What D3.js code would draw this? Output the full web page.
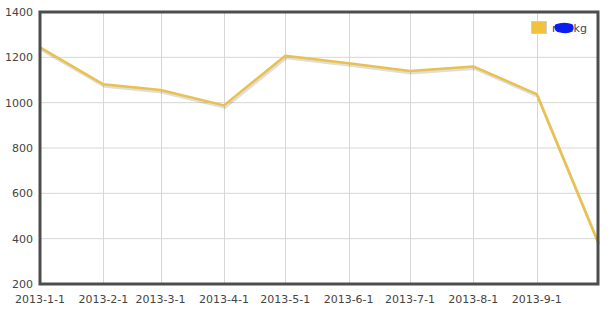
<!DOCTYPE html>
<html><head><meta charset="utf-8">
<script src="https://cdn.jsdelivr.net/npm/d3@7/dist/d3.min.js"></script>
<style>body{margin:0;background:#fff}svg{display:block}text{font-family:"DejaVu Sans",Verdana,sans-serif;font-size:11px;fill:#444}</style>
</head><body>
<svg id="c" width="614" height="315"></svg>
<script>
const dates = ["2013-1-1","2013-2-1","2013-3-1","2013-4-1","2013-5-1","2013-6-1","2013-7-1","2013-8-1","2013-9-1","2013-10-1"];
const values = [1244,1081,1056,988,1207,1174,1140,1160,1038,384];
const yTicks = [200,400,600,800,1000,1200,1400];
const xTickLabels = ["2013-1-1","2013-2-1","2013-3-1","2013-4-1","2013-5-1","2013-6-1","2013-7-1","2013-8-1","2013-9-1"];
const seriesName = "net.kg";

const parse = d3.timeParse("%Y-%-m-%-d");
const data = dates.map((d,i)=>({date:parse(d), value:values[i]}));
const m = {l:40, r:16, t:12, b:31};
const W = 614, H = 315;
const svg = d3.select("#c");
const x = d3.scaleTime().domain([parse("2013-1-1"), parse("2013-10-1")]).range([m.l, W-m.r]);
const y = d3.scaleLinear().domain([200,1400]).range([H-m.b, m.t]);

const g = svg.append("g");
// grid
g.selectAll("line.h").data(yTicks.slice(1,-1)).join("line")
  .attr("x1", m.l).attr("x2", W-m.r).attr("y1", d=>y(d)).attr("y2", d=>y(d))
  .attr("stroke","#d6d6d6").attr("stroke-width",1);
g.selectAll("line.v").data(xTickLabels.slice(1).map(parse)).join("line")
  .attr("x1", d=>Math.round(x(d))+0.5).attr("x2", d=>Math.round(x(d))+0.5).attr("y1", m.t).attr("y2", H-m.b)
  .attr("stroke","#d6d6d6").attr("stroke-width",1);

// line shadow
const line = d3.line().x(d=>x(d.date)).y(d=>y(d.value));
g.append("path").datum(data).attr("d", line).attr("transform","translate(1,2)")
  .attr("fill","none").attr("stroke","rgba(0,0,0,0.13)").attr("stroke-width",3).attr("stroke-linejoin","round");
g.append("path").datum(data).attr("d", line)
  .attr("fill","none").attr("stroke","#eac14a").attr("stroke-width",2.5).attr("stroke-linejoin","round");

// frame
g.append("rect").attr("x", m.l).attr("y", m.t).attr("width", W-m.r-m.l).attr("height", H-m.b-m.t)
  .attr("fill","none").attr("stroke","#4d4d4d").attr("stroke-width",3);

// y labels
g.selectAll("text.y").data(yTicks).join("text")
  .attr("x", 33).attr("y", d=>y(d)).attr("dy","0.35em").attr("text-anchor","end").text(d=>d);
// x labels
g.selectAll("text.x").data(xTickLabels).join("text")
  .attr("x", d=>x(parse(d))).attr("y", 299).attr("dy","0.35em").attr("text-anchor","middle").text(d=>d);

// legend
const lg = svg.append("g").attr("transform","translate(531,21)");
lg.append("rect").attr("x",0.5).attr("y",0.5).attr("width",15).attr("height",12).attr("fill","#f0c23d").attr("stroke","#cfcfcf").attr("stroke-width",1);
lg.append("text").attr("x",21).attr("y",7).attr("dy","0.35em").attr("font-size","10px").text(seriesName);
lg.append("path").attr("d","M25,4 C30,2 37,2 41,4 C43,7 42,10 38,11 C33,12 27,11 25,9 C24,7 24,5 25,4 Z")
  .attr("fill","#0a1ef0").attr("stroke","#0a1ef0").attr("stroke-width",1.5);
</script>
</body></html>
